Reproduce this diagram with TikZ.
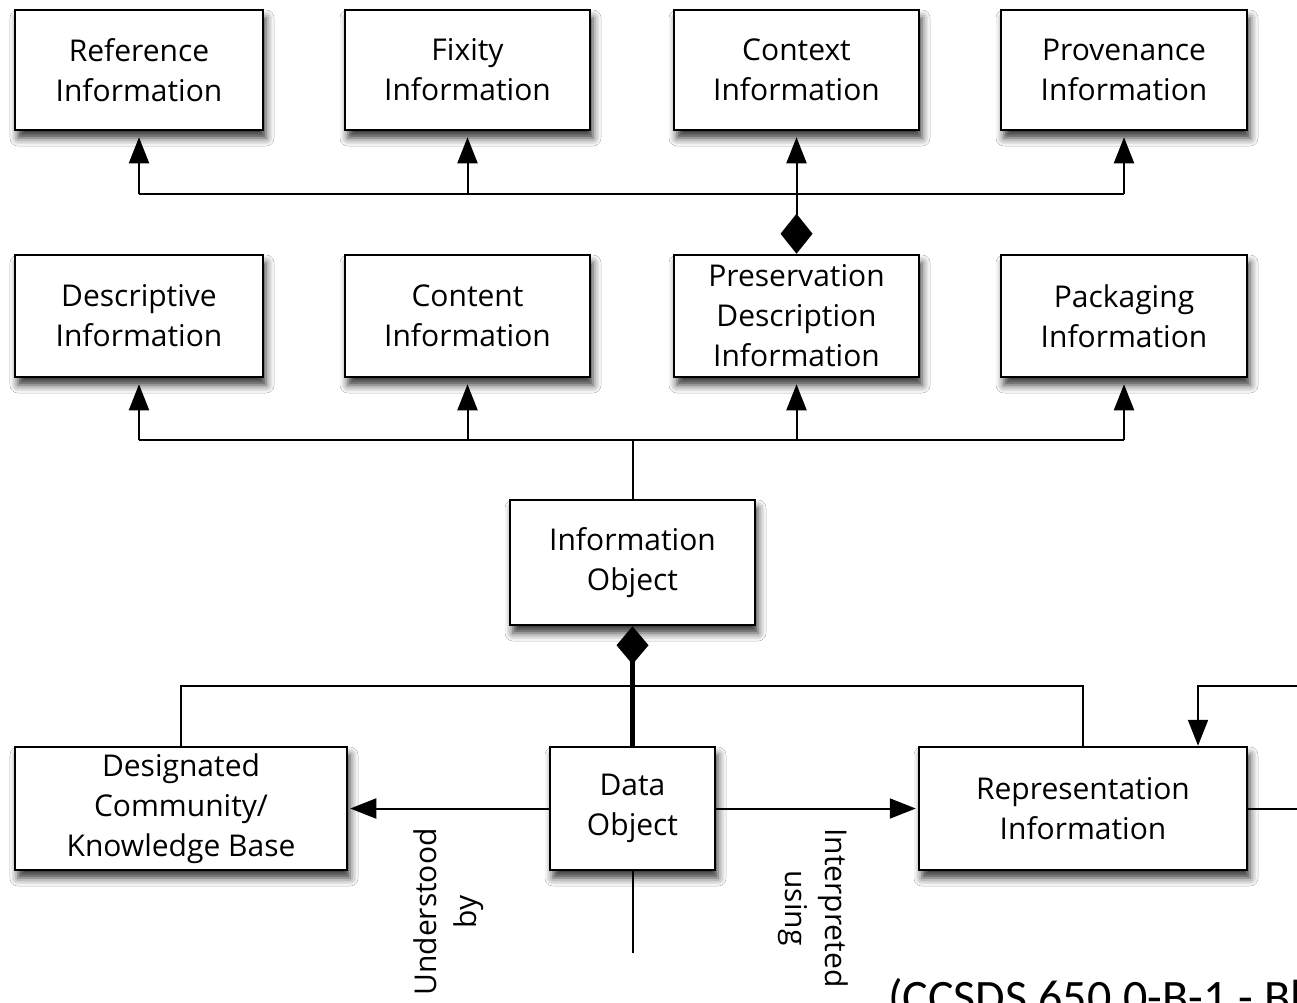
\documentclass[tikz,border=0pt]{standalone}
\usepackage{fontspec}
\usetikzlibrary{arrows.meta,shadows.blur}
\newfontfamily\boxfont{Open Sans}
\newfontfamily\capfont{Carlito}
\tikzset{
  infobox/.style={draw=black, line width=2.5pt, fill=white, align=center,
    inner sep=0pt, font=\boxfont\fontsize{30}{40}\selectfont,
    blur shadow={shadow xshift=3pt, shadow yshift=-8pt, shadow blur radius=8pt, shadow opacity=80}},
  conn/.style={line width=2pt, black},
  tip/.style={-{Triangle[length=26pt,width=20pt]}},
  gaptip/.style={tip, shorten >=6pt},
  agg/.style={{Diamond[length=38pt,width=32pt]}-},
  aggtip/.style={{Diamond[length=40pt,width=32pt]}-{Triangle[length=26pt,width=20pt]}, shorten >=6pt},
  lbl/.style={font=\boxfont\fontsize{30}{40}\selectfont, align=center, inner sep=0pt}
}
\begin{document}
\begin{tikzpicture}[x=1pt,y=-1pt]
  \useasboundingbox (0,0) rectangle (1297,1002);
  \clip (0,0) rectangle (1297,1002);
  \fill[white] (0,0) rectangle (1297,1002);

  % bus levels and off-page ends
  \coordinate (busA) at (0,194);
  \coordinate (busB) at (0,440);
  \coordinate (busC) at (0,686);
  \coordinate (loopTop) at (1297,686);
  \coordinate (loopTurn) at (1198,686);
  \coordinate (loopRight) at (1297,808);
  \coordinate (tail) at (632.5,953);

  % top row
  \node[infobox, minimum width=248pt, minimum height=120pt] (ref)  at (139,70)   {Reference\\Information};
  \node[infobox, minimum width=245pt, minimum height=120pt] (fix)  at (467.5,70) {Fixity\\Information};
  \node[infobox, minimum width=245pt, minimum height=120pt] (ctx)  at (796.5,70) {Context\\Information};
  \node[infobox, minimum width=246pt, minimum height=120pt] (prov) at (1124,70)  {Provenance\\Information};

  % second row
  \node[infobox, minimum width=248pt, minimum height=122pt] (desc) at (139,316)   {Descriptive\\Information};
  \node[infobox, minimum width=245pt, minimum height=122pt] (cont) at (467.5,316) {Content\\Information};
  \node[infobox, minimum width=245pt, minimum height=122pt] (pdi)  at (796.5,316) {Preservation\\Description\\Information};
  \node[infobox, minimum width=246pt, minimum height=122pt] (pack) at (1124,316)  {Packaging\\Information};

  % middle
  \node[infobox, minimum width=245pt, minimum height=125pt] (io) at (632.5,562.5) {Information\\Object};

  % bottom row
  \node[infobox, minimum width=332pt, minimum height=123pt] (dc) at (181,808.5)   {Designated\\Community/\\Knowledge Base};
  \node[infobox, minimum width=165pt, minimum height=123pt] (do) at (632.5,808.5) {Data\\Object};
  \node[infobox, minimum width=328pt, minimum height=123pt] (ri) at (1083,808.5)  {Representation\\Information};

  % PDI components
  \draw[conn] (ref.south |- busA) -- (prov.south |- busA);
  \draw[conn, gaptip] (ref.south |- busA) -- (ref.south);
  \draw[conn, gaptip] (fix.south |- busA) -- (fix.south);
  \draw[conn, gaptip] (prov.south |- busA) -- (prov.south);
  \draw[conn, aggtip] (pdi.north) -- (ctx.south);

  % information object components
  \draw[conn] (desc.south |- busB) -- (pack.south |- busB);
  \draw[conn, gaptip] (desc.south |- busB) -- (desc.south);
  \draw[conn, gaptip] (cont.south |- busB) -- (cont.south);
  \draw[conn, gaptip] (pdi.south |- busB) -- (pdi.south);
  \draw[conn, gaptip] (pack.south |- busB) -- (pack.south);
  \draw[conn] (io.north) -- (io.north |- busB);

  % data object and its relations
  \draw[conn, line width=5pt, agg] (io.south) -- (do.north);
  \draw[conn] (dc.north) -- (dc.north |- busC) -- (ri.north |- busC) -- (ri.north);
  \draw[conn, tip, shorten >=2pt] (do.west) -- (dc.east);
  \draw[conn, tip, shorten >=2pt] (do.east) -- (ri.west);
  \draw[conn] (do.south) -- (tail);
  \draw[conn] (ri.east) -- (ri.east -| loopRight);
  \draw[conn, tip] (loopTop) -- (loopTurn) -- (loopTurn |- ri.north);

  % relation labels
  \node[lbl, rotate=90]  (lu) at (449,912) {Understood\\by};
  \node[lbl, rotate=-90] (li) at (813,908) {Interpreted\\using};

  % source caption, running past the right edge
  \node[anchor=base west, inner sep=0pt, font=\capfont\fontsize{48}{56}\selectfont] (cap) at (888,1013) {(CCSDS 650.0-B-1 - Blue Book)};
\end{tikzpicture}
\end{document}
